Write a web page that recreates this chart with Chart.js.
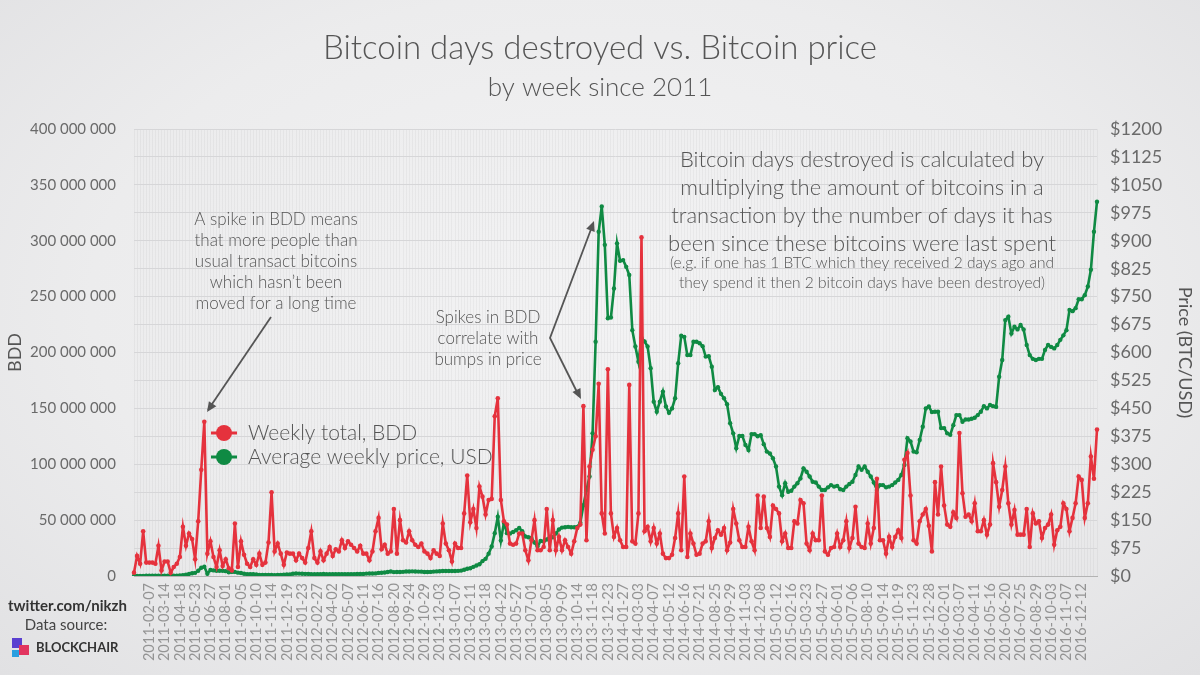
<!DOCTYPE html>
<html>
<head>
<meta charset="utf-8">
<script src="https://cdn.jsdelivr.net/npm/chart.js@4.4.1/dist/chart.umd.min.js"></script>
<style>
  html, body { margin: 0; padding: 0; }
  body {
    width: 1200px; height: 675px; overflow: hidden;
    background: radial-gradient(ellipse at 50% 45%, #f3f3f4 0%, #ececed 60%, #e1e1e3 100%);
  }
  #wrap { position: relative; width: 1200px; height: 675px; }
</style>
</head>
<body>
<div id="wrap"><canvas id="chart" width="1200" height="675"></canvas></div>
<script>
// weekly data, first week 2011-01-03
const firstWeek = '2011-01-03';

// weekly total bitcoin days destroyed, millions
const bddM = [
  3, 18, 11, 40, 12, 12, 12, 11, 27, 5,
  13, 13, 3, 8, 11, 17, 44, 27, 38, 33,
  15, 49, 95, 138, 20, 31, 17, 8, 23, 9,
  15, 7, 5, 47, 8, 31, 19, 11, 8, 15,
  10, 20, 10, 12, 30, 75, 22, 29, 20, 10,
  21, 20, 20, 14, 20, 16, 12, 25, 40, 16,
  12, 22, 14, 20, 26, 18, 24, 22, 32, 25,
  31, 28, 25, 22, 27, 20, 20, 14, 22, 40,
  52, 24, 28, 20, 22, 60, 20, 50, 32, 30,
  40, 32, 28, 26, 29, 22, 20, 16, 23, 20,
  18, 47, 29, 23, 13, 29, 25, 25, 56, 90,
  48, 60, 43, 80, 71, 55, 68, 69, 143, 159,
  68, 49, 46, 29, 28, 29, 38, 38, 23, 14,
  32, 50, 23, 23, 26, 60, 23, 50, 23, 35,
  23, 32, 26, 20, 31, 43, 46, 152, 32, 98,
  113, 125, 172, 56, 38, 185, 56, 35, 43, 32,
  26, 26, 171, 31, 29, 56, 303, 40, 44, 31,
  43, 29, 38, 20, 16, 16, 19, 34, 56, 23,
  89, 17, 38, 29, 19, 20, 29, 31, 49, 25,
  34, 41, 37, 43, 23, 30, 60, 47, 32, 26,
  26, 44, 31, 23, 72, 43, 71, 43, 35, 63,
  60, 56, 31, 38, 25, 25, 49, 47, 68, 65,
  29, 23, 38, 32, 32, 72, 22, 19, 25, 26,
  38, 26, 32, 49, 25, 34, 62, 29, 26, 25,
  47, 29, 43, 87, 32, 32, 20, 35, 26, 35,
  41, 34, 104, 110, 72, 32, 29, 49, 55, 60,
  45, 22, 84, 55, 98, 63, 46, 44, 57, 52,
  128, 74, 53, 55, 49, 65, 40, 40, 50, 37,
  46, 101, 84, 62, 77, 98, 65, 46, 59, 37,
  37, 37, 60, 26, 56, 47, 49, 34, 43, 46,
  55, 28, 41, 44, 65, 60, 40, 52, 65, 89,
  86, 52, 65, 107, 87, 131
];

// average weekly price, USD
const priceUsd = [
  0.3, 0.4, 0.4, 0.4, 0.7, 0.9, 1.0, 0.9, 0.9, 0.9,
  0.9, 0.8, 0.8, 0.7, 0.9, 1.3, 2.4, 3.3, 5.6, 7.5,
  8.5, 14, 22, 25, 6, 16, 15, 14, 14, 14,
  13, 10, 11, 11, 9, 8, 6, 5, 5, 5,
  4, 3, 3, 3, 3, 2.5, 2.3, 2.8, 3, 3.2,
  3.9, 4.4, 6.0, 6.8, 6.5, 6.0, 5.8, 5.8, 5.0, 4.6,
  4.9, 4.9, 5.3, 4.8, 4.8, 4.9, 4.9, 5.0, 5.1, 5.0,
  5.0, 5.0, 5.1, 5.2, 5.4, 5.7, 6.4, 6.6, 6.7, 7.0,
  8.3, 8.8, 9.2, 10.9, 12.0, 10.5, 10.6, 10.8, 11.2, 12.2,
  12.2, 12.5, 11.9, 11.8, 11.7, 10.8, 10.9, 11.0, 11.8, 12.3,
  12.7, 13.5, 13.4, 13.4, 13.4, 13.4, 13.8, 14.5, 16.8, 19.5,
  21, 24.5, 28, 31.5, 40, 46, 60, 79, 115, 159,
  95, 143, 115, 114, 118, 123, 129, 120, 106, 104,
  102, 90, 79, 94, 93, 98, 105, 104, 114, 125,
  130, 131, 132, 131, 131, 132, 143, 190, 230, 267,
  383, 629, 924, 992, 889, 692, 694, 772, 893, 846,
  848, 830, 808, 660, 616, 575, 639, 630, 616, 558,
  468, 441, 468, 495, 455, 438, 450, 477, 571, 645,
  642, 593, 593, 629, 629, 625, 617, 589, 590, 562,
  499, 507, 489, 477, 461, 410, 383, 343, 376, 376,
  352, 338, 381, 381, 375, 378, 354, 334, 329, 316,
  294, 240, 217, 249, 226, 229, 240, 249, 262, 289,
  280, 267, 253, 251, 240, 231, 231, 238, 244, 240,
  242, 233, 231, 240, 247, 253, 271, 294, 285, 294,
  280, 267, 251, 231, 244, 244, 238, 240, 244, 251,
  258, 271, 298, 370, 361, 334, 332, 365, 401, 450,
  455, 440, 441, 441, 397, 397, 383, 379, 405, 432,
  432, 414, 420, 420, 422, 425, 432, 441, 456, 450,
  459, 456, 454, 535, 580, 687, 696, 651, 669, 662,
  674, 662, 620, 593, 583, 580, 583, 583, 607, 620,
  615, 611, 620, 634, 646, 660, 714, 711, 719, 743,
  743, 754, 777, 822, 924, 1005
];

// week start dates as category labels
const weeks = [];
{
  const d = new Date(firstWeek + 'T00:00:00Z');
  for (let i = 0; i < bddM.length; i++) {
    weeks.push(d.toISOString().slice(0, 10));
    d.setUTCDate(d.getUTCDate() + 7);
  }
}
const lastLabelled = '2016-12-12';

const RED = '#e5323d';
const GREEN = '#0f8a43';
const TXT = '#555555';
const FONT = "Lato, 'Open Sans', sans-serif";

function spaced(n) {
  return String(n).replace(/\B(?=(\d{3})+(?!\d))/g, ' ');
}

function arrowHead(ctx, x0, y0, x1, y1, size) {
  const a = Math.atan2(y1 - y0, x1 - x0);
  ctx.beginPath();
  ctx.moveTo(x1, y1);
  ctx.lineTo(x1 - size * Math.cos(a - 0.42), y1 - size * Math.sin(a - 0.42));
  ctx.lineTo(x1 - size * Math.cos(a + 0.42), y1 - size * Math.sin(a + 0.42));
  ctx.closePath();
  ctx.fill();
}

const decor = {
  id: 'decor',
  afterDraw(chart) {
    const ctx = chart.ctx;
    ctx.save();
    ctx.fillStyle = TXT;
    ctx.textAlign = 'center';
    ctx.textBaseline = 'middle';

    // title
    ctx.font = '300 33px ' + FONT;
    ctx.fillText('Bitcoin days destroyed vs. Bitcoin price', 600, 48);
    ctx.font = '300 26px ' + FONT;
    ctx.fillText('by week since 2011', 600, 88);

    // left note
    ctx.font = '300 17px ' + FONT;
    ['A spike in BDD means', 'that more people than', 'usual transact bitcoins',
     'which hasn\u2019t been', 'moved for a long time'].forEach((t, i) => {
      ctx.fillText(t, 276, 220 + i * 21);
    });
    ['Spikes in BDD', 'correlate with', 'bumps in price'].forEach((t, i) => {
      ctx.fillText(t, 488, 318 + i * 21);
    });

    // right note
    ctx.font = '300 22px ' + FONT;
    ['Bitcoin days destroyed is calculated by', 'multiplying the amount of bitcoins in a',
     'transaction by the number of days it has', 'been since these bitcoins were last spent'].forEach((t, i) => {
      ctx.fillText(t, 862, 160 + i * 28);
    });
    ctx.font = '300 15.5px ' + FONT;
    ctx.fillText('(e.g. if one has 1 BTC which they received 2 days ago and', 862, 263);
    ctx.fillText('they spend it then 2 bitcoin days have been destroyed)', 862, 283);

    // arrows
    ctx.strokeStyle = '#555';
    ctx.lineWidth = 1.8;
    ctx.beginPath();
    ctx.moveTo(271, 317);
    ctx.lineTo(208, 410);
    ctx.stroke();
    arrowHead(ctx, 271, 317, 207, 412, 11);
    ctx.beginPath();
    ctx.moveTo(593, 224);
    ctx.lineTo(550, 338);
    ctx.lineTo(579, 396);
    ctx.stroke();
    arrowHead(ctx, 550, 338, 594, 221, 11);
    arrowHead(ctx, 550, 338, 581, 399, 11);

    // legend
    ctx.textAlign = 'left';
    ctx.font = '300 21px ' + FONT;
    [[RED, 'Weekly total, BDD', 433], [GREEN, 'Average weekly price, USD', 457]].forEach(([c, t, y]) => {
      ctx.strokeStyle = c;
      ctx.fillStyle = c;
      ctx.lineWidth = 3;
      ctx.beginPath();
      ctx.moveTo(211, y);
      ctx.lineTo(237, y);
      ctx.stroke();
      ctx.beginPath();
      ctx.arc(224, y, 8, 0, Math.PI * 2);
      ctx.fill();
      ctx.fillStyle = TXT;
      ctx.fillText(t, 248, y);
    });

    // footer
    ctx.fillStyle = '#333';
    ctx.font = 'bold 15px ' + FONT;
    ctx.fillText('twitter.com/nikzh', 8, 606);
    ctx.fillStyle = '#444';
    ctx.font = '15px ' + FONT;
    ctx.textAlign = 'center';
    ctx.fillText('Data source:', 66, 625);
    // blockchair mark
    ctx.fillStyle = '#5a3fd0';
    ctx.fillRect(12, 638, 10, 10);
    ctx.fillStyle = '#e2345f';
    ctx.fillRect(19, 645, 10, 10);
    ctx.fillStyle = '#2a9fe0';
    ctx.fillRect(12, 650, 7, 7);
    ctx.fillStyle = '#333';
    ctx.textAlign = 'left';
    ctx.font = 'bold 13px ' + FONT;
    ctx.fillText('BLOCKCHAIR', 36, 648);
    ctx.restore();
  }
};

new Chart(document.getElementById('chart'), {
  type: 'line',
  data: {
    labels: weeks,
    datasets: [{
      label: 'Weekly total, BDD',
      data: bddM,
      yAxisID: 'y',
      borderColor: RED,
      backgroundColor: RED,
      borderWidth: 2.6,
      pointRadius: 2.3,
      pointBorderWidth: 0,
      tension: 0
    }, {
      label: 'Average weekly price, USD',
      data: priceUsd,
      yAxisID: 'y1',
      borderColor: GREEN,
      backgroundColor: GREEN,
      borderWidth: 2.6,
      pointRadius: 2.2,
      pointBorderWidth: 0,
      tension: 0
    }]
  },
  options: {
    responsive: false,
    animation: false,
    layout: { padding: { top: 129, left: 0, right: 0, bottom: 0 } },
    plugins: { legend: { display: false }, tooltip: { enabled: false } },
    scales: {
      x: {
        offset: false,
        grid: { color: 'rgba(0,0,0,0.035)', drawTicks: false },
        border: { color: '#b3b3b3', width: 1 },
        ticks: {
          autoSkip: false, minRotation: 90, maxRotation: 90, padding: 7,
          color: '#949494', font: { family: FONT, size: 14.5 },
          callback(v, i) {
            const w = weeks[i];
            return (i >= 5 && i % 5 === 0 && w <= lastLabelled) ? w : '';
          }
        },
        afterFit(s) { s.height = 99; }
      },
      y: {
        position: 'left',
        min: 0, max: 400,
        grid: { display: false },
        border: { display: false },
        ticks: {
          stepSize: 50, padding: 10, color: '#6a6a6a',
          font: { family: FONT, size: 15 },
          callback: v => spaced(v * 1000000)
        },
        title: { display: true, text: 'BDD', color: '#555', font: { family: FONT, size: 18 }, padding: { top: 4, bottom: 0 } },
        afterFit(s) { s.width = 134; }
      },
      y1: {
        position: 'right',
        min: 0, max: 1200,
        grid: { color: '#d6d6d8', drawTicks: false },
        border: { display: false },
        ticks: {
          stepSize: 75, padding: 13, color: '#6a6a6a',
          font: { family: FONT, size: 18 },
          callback: v => '$' + v
        },
        title: { display: true, text: 'Price (BTC/USD)', color: '#555', font: { family: FONT, size: 18 }, padding: { top: 4, bottom: 0 } },
        afterFit(s) { s.width = 103; }
      }
    }
  },
  plugins: [decor]
});
</script>
</body>
</html>
